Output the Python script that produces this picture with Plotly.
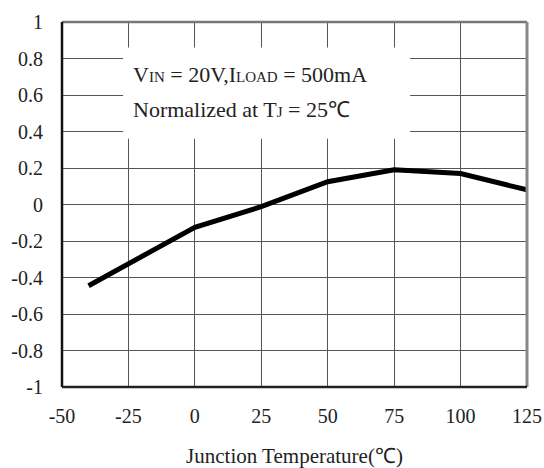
import plotly.graph_objects as go

temps = [-40, 0, 25, 50, 75, 100, 125]
deviation = [-0.445, -0.125, -0.012, 0.125, 0.19, 0.17, 0.08]
x_ticks = [-50, -25, 0, 25, 50, 75, 100, 125]
x_labels = ["-50", "-25", "0", "25", "50", "75", "100", "125"]
y_ticks = [-1, -0.8, -0.6, -0.4, -0.2, 0, 0.2, 0.4, 0.6, 0.8, 1]
y_labels = ["-1", "-0.8", "-0.6", "-0.4", "-0.2", "0", "0.2", "0.4", "0.6", "0.8", "1"]

FONT = "Liberation Serif, Times New Roman, serif"

fig = go.Figure()
fig.add_trace(go.Scatter(x=temps, y=deviation, mode="lines",
                         line=dict(color="black", width=5), showlegend=False))

# white box behind annotation text
fig.add_shape(type="rect", xref="x", yref="y", x0=-27, x1=81, y0=0.36, y1=0.86,
              fillcolor="white", line=dict(width=0), layer="above")

sm = "<span style='font-size:15px'>"
fig.add_annotation(x=-24, y=0.71, xref="x", yref="y", xanchor="left", yanchor="middle",
                   text=f"V{sm}IN</span> = 20V,I{sm}LOAD</span> = 500mA",
                   showarrow=False, font=dict(family=FONT, size=22, color="#222"))
fig.add_annotation(x=-24, y=0.52, xref="x", yref="y", xanchor="left", yanchor="middle",
                   text=f"Normalized at T{sm}J</span> = 25℃",
                   showarrow=False, font=dict(family=FONT, size=22, color="#222"))

# borders
fig.add_shape(type="line", xref="paper", yref="paper", x0=0, x1=1, y0=1, y1=1,
              line=dict(color="#777", width=2.5), layer="above")
fig.add_shape(type="line", xref="paper", yref="paper", x0=1, x1=1, y0=0, y1=1,
              line=dict(color="#888", width=3), layer="above")
fig.add_shape(type="line", xref="paper", yref="paper", x0=0, x1=0, y0=0, y1=1,
              line=dict(color="#111", width=2.5), layer="above")
fig.add_shape(type="line", xref="paper", yref="paper", x0=0, x1=1, y0=0, y1=0,
              line=dict(color="#222", width=2.5), layer="above")

fig.update_xaxes(range=[-50, 125], tickvals=x_ticks, ticktext=x_labels, showgrid=True,
                 gridcolor="#555", gridwidth=1, zeroline=False, showline=False, ticks="",
                 automargin=False,
                 tickfont=dict(family=FONT, size=20, color="#222"), ticklabelstandoff=15,
                 title=dict(text="Junction Temperature(℃)", standoff=26,
                            font=dict(family=FONT, size=21, color="#222")))
fig.update_yaxes(range=[-1, 1], tickvals=y_ticks, ticktext=y_labels, showgrid=True,
                 gridcolor="#555", gridwidth=1, zeroline=False, showline=False, ticks="",
                 automargin=False,
                 tickfont=dict(family=FONT, size=20, color="#222"), ticklabelstandoff=18)

fig.update_layout(width=544, height=468, margin=dict(l=62, r=17, t=22, b=81),
                  plot_bgcolor="white", paper_bgcolor="white")

fig.write_html("out.html", config={"displayModeBar": False},
               post_script="document.body.style.margin='0';document.body.style.overflow='hidden';")
